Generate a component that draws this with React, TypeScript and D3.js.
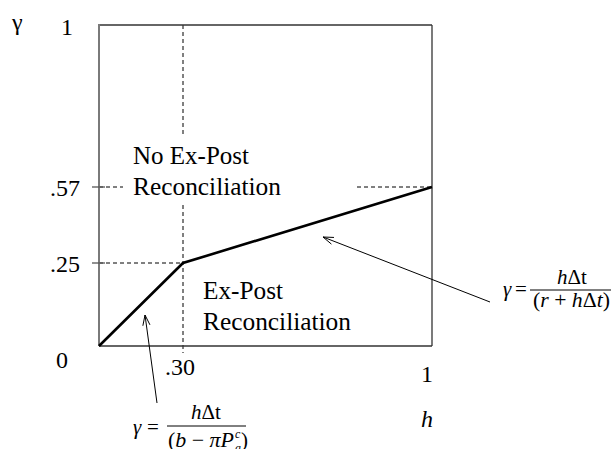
import React from 'react';
import * as d3 from 'd3';

// values
const hValues = [0, 0.3, 1];
const gammaValues = [0, 0.25, 0.57];
const yTicks = [0.25, 0.57];
const yTickLabels = ['.25', '.57'];
const xKink = 0.3;
const xKinkLabel = '.30';

const W = 611;
const H = 449;
const FONT = "'Liberation Serif', 'Times New Roman', serif";

// the figure is schematic: piecewise scales put the ticks where the drawing has them
const x = d3.scaleLinear().domain([0, 0.3, 1]).range([99, 183, 432]);
const y = d3.scaleLinear().domain([0, 0.25, 0.57, 1]).range([346, 263, 187, 25]);

function Arrow({ x1, y1, x2, y2 }: { x1: number; y1: number; x2: number; y2: number }) {
  const a = Math.atan2(y2 - y1, x2 - x1);
  const len = 11;
  const spread = 0.33;
  const p1 = [x2 - len * Math.cos(a - spread), y2 - len * Math.sin(a - spread)];
  const p2 = [x2 - len * Math.cos(a + spread), y2 - len * Math.sin(a + spread)];
  return (
    <g stroke="#000" strokeWidth={1} fill="none">
      <line x1={x1} y1={y1} x2={x2} y2={y2} />
      <polyline points={`${p1[0]},${p1[1]} ${x2},${y2} ${p2[0]},${p2[1]}`} />
    </g>
  );
}

export default function App() {
  const line = d3.line<number>()
    .x((_, i) => x(hValues[i]))
    .y(d => y(d));

  const dash = '4,3';
  const x0 = x(0), x1 = x(1), y0 = y(0), y1 = y(1);
  const xk = x(xKink);

  return (
    <svg width={W} height={H} style={{ position: 'absolute', left: 0, top: 0, fontFamily: FONT }}>
      <rect width={W} height={H} fill="#fff" />

      {/* dashed guides */}
      <g stroke="#000" strokeWidth={1} strokeDasharray={dash} fill="none">
        <line x1={xk} y1={y1} x2={xk} y2={135} />
        <line x1={xk} y1={205} x2={xk} y2={y0 + 7} />
        <line x1={x0} y1={y(0.57)} x2={123} y2={y(0.57)} />
        <line x1={357} y1={y(0.57)} x2={x1} y2={y(0.57)} />
        <line x1={x0} y1={y(0.25)} x2={xk} y2={y(0.25)} />
      </g>

      {/* frame */}
      <g stroke="#333" strokeWidth={1.3} fill="none">
        <line x1={x0} y1={y1} x2={x1} y2={y1} />
        <line x1={x1} y1={y1} x2={x1} y2={y0} />
        <line x1={x0} y1={y0} x2={x1} y2={y0} />
      </g>
      <line x1={x0} y1={y1 - 1} x2={x0} y2={y0} stroke="#7a7a7a" strokeWidth={2} />

      {yTicks.map(t => (
        <line key={t} x1={x0 - 7} x2={x0 + 6} y1={y(t)} y2={y(t)} stroke="#555" strokeWidth={1.3} />
      ))}

      {/* the kinked boundary */}
      <path d={line(gammaValues) || ''} fill="none" stroke="#000" strokeWidth={2.6} strokeLinejoin="miter" />

      {/* axis labels */}
      <g fontSize={24} fill="#000">
        <text x={12} y={30}>γ</text>
        <text x={73} y={y1 + 10} textAnchor="end">1</text>
        {yTicks.map((t, i) => (
          <text key={t} x={80} y={y(t) + 9} textAnchor="end">{yTickLabels[i]}</text>
        ))}
        <text x={68} y={y0 + 22} textAnchor="end">0</text>
        <text x={xk - 3} y={y0 + 29} textAnchor="middle">{xKinkLabel}</text>
        <text x={x1 - 5} y={y0 + 36} textAnchor="middle">1</text>
        <text x={x1 - 5} y={y0 + 81} textAnchor="middle" fontStyle="italic">h</text>
      </g>

      {/* region labels */}
      <g fontSize={25} fill="#000">
        <text x={133} y={164} textLength={116} lengthAdjust="spacingAndGlyphs">No Ex-Post</text>
        <text x={133} y={195} textLength={148} lengthAdjust="spacingAndGlyphs">Reconciliation</text>
        <text x={203} y={299} textLength={80} lengthAdjust="spacingAndGlyphs">Ex-Post</text>
        <text x={203} y={330} textLength={148} lengthAdjust="spacingAndGlyphs">Reconciliation</text>
      </g>

      {/* arrows */}
      <Arrow x1={490} y1={302} x2={323} y2={237} />
      <Arrow x1={157} y1={403} x2={145} y2={315} />

      {/* right formula */}
      <g fontSize={21} fill="#000">
        <text x={503} y={296} fontStyle="italic">γ</text>
        <text x={515} y={296}>=</text>
        <line x1={530} x2={611} y1={290} y2={290} stroke="#000" strokeWidth={1} />
        <text x={572} y={284} textAnchor="middle">
          <tspan fontStyle="italic">h</tspan>Δt
        </text>
        <text x={533} y={307} textLength={77} lengthAdjust="spacingAndGlyphs">
          (<tspan fontStyle="italic">r</tspan> + <tspan fontStyle="italic">h</tspan>Δ<tspan fontStyle="italic">t</tspan>)
        </text>
      </g>

      {/* left formula */}
      <g fontSize={21} fill="#000">
        <text x={133} y={434} fontStyle="italic">γ</text>
        <text x={147} y={434}>=</text>
        <line x1={167} x2={246} y1={426} y2={426} stroke="#000" strokeWidth={1} />
        <text x={206} y={419} textAnchor="middle">
          <tspan fontStyle="italic">h</tspan>Δt
        </text>
        <text x={168} y={447} textLength={66} lengthAdjust="spacingAndGlyphs">
          (<tspan fontStyle="italic">b</tspan> − <tspan fontStyle="italic">πP</tspan>
        </text>
        <text x={235} y={438} fontSize={12} fontStyle="italic">c</text>
        <text x={235} y={452} fontSize={12} fontStyle="italic">a</text>
        <text x={241} y={447}>)</text>
      </g>
    </svg>
  );
}
